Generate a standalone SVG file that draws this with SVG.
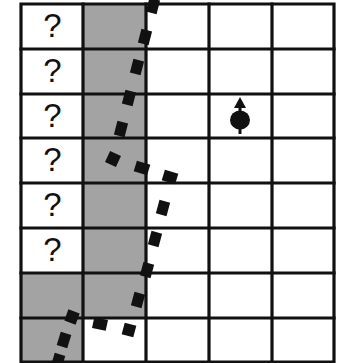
<svg xmlns="http://www.w3.org/2000/svg" width="342" height="363" viewBox="0 0 342 363">
<style>
.bg{fill:#ffffff}
.shade{fill:#a3a3a3}
.grid{stroke:#111111;stroke-width:3.2;fill:none;stroke-linecap:square}
.q{font-family:"Liberation Sans",Arial,sans-serif;font-size:33px;fill:#111111;text-anchor:middle}
.d{fill:#111111}
</style>
<defs>
<rect id="dv" class="d" x="-5.5" y="-7" width="11" height="14"/>
<rect id="dh" class="d" x="-7" y="-5.5" width="14" height="11"/>
<rect id="dc" class="d" x="-6" y="-6" width="12" height="12"/>
</defs>
<rect class="bg" x="0" y="0" width="342" height="363"/>
<g id="shading">
<rect class="shade" x="83" y="4" width="63" height="314"/>
<rect class="shade" x="21" y="273" width="62" height="90"/>
</g>
<g id="grid">
<path class="grid" d="M21,4 H334 V362 H21 Z"/>
<path class="grid" d="M83,4 V362 M146,4 V362 M209,4 V362 M272,4 V362"/>
<path class="grid" d="M21,49 H334 M21,94 H334 M21,138 H334 M21,183 H334 M21,228 H334 M21,273 H334 M21,318 H334"/>
</g>
<g id="questions">
<text class="q" x="52.5" y="37">?</text>
<text class="q" x="52.5" y="82">?</text>
<text class="q" x="52.5" y="127">?</text>
<text class="q" x="52.5" y="171">?</text>
<text class="q" x="52.5" y="216">?</text>
<text class="q" x="52.5" y="261">?</text>
</g>
<g id="spin">
<line x1="240" y1="104" x2="240" y2="134" stroke="#111111" stroke-width="3"/>
<polygon points="240,97 246,108 234,108" fill="#111111"/>
<ellipse cx="240" cy="120" rx="10" ry="9.5" fill="#111111"/>
</g>
<g id="dotted-line">
<use href="#dv" transform="translate(153,6) rotate(14.7)"/>
<use href="#dv" transform="translate(145,37) rotate(14.7)"/>
<use href="#dv" transform="translate(137,67) rotate(14.7)"/>
<use href="#dv" transform="translate(129,98) rotate(14.7)"/>
<use href="#dv" transform="translate(121,129) rotate(14.7)"/>
<use href="#dc" transform="translate(113,159) rotate(25)"/>
<use href="#dh" transform="translate(142,168) rotate(17)"/>
<use href="#dh" transform="translate(170,177) rotate(17)"/>
<use href="#dv" transform="translate(163,208) rotate(15)"/>
<use href="#dv" transform="translate(155,239) rotate(15)"/>
<use href="#dv" transform="translate(147,270) rotate(15)"/>
<use href="#dv" transform="translate(138,300) rotate(15)"/>
<use href="#dc" transform="translate(129,330) rotate(15)"/>
<use href="#dh" transform="translate(100,324) rotate(12)"/>
<use href="#dc" transform="translate(72,317) rotate(20)"/>
<use href="#dv" transform="translate(64,340) rotate(17)"/>
<use href="#dv" transform="translate(58,361) rotate(17)"/>
</g>
</svg>
